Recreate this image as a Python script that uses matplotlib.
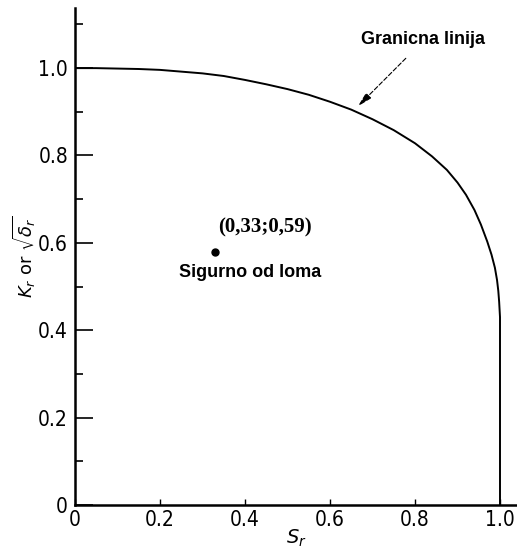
import numpy as np
import matplotlib.pyplot as plt

# boundary line
sr = [0.0, 0.05, 0.1, 0.15, 0.2, 0.25, 0.3, 0.35, 0.4, 0.45, 0.5, 0.55,
      0.6, 0.65, 0.7, 0.75, 0.8, 0.84, 0.875, 0.9, 0.92, 0.94, 0.955, 0.97,
      0.98, 0.988, 0.993, 0.996, 0.998, 1.0, 1.0]
kr = [1.0, 1.0, 0.999, 0.998, 0.996, 0.992, 0.988, 0.982, 0.973, 0.963, 0.952, 0.939,
      0.923, 0.905, 0.883, 0.858, 0.828, 0.798, 0.767, 0.738, 0.71, 0.675, 0.642, 0.603,
      0.573, 0.543, 0.515, 0.49, 0.465, 0.43, 0.0]

point = (0.33, 0.58)
point_label = "(0,33;0,59)"
region_label = "Sigurno od loma"
line_label = "Granicna linija"

xticks = [0, 0.2, 0.4, 0.6, 0.8, 1.0]
xticklabels = ["0", "0.2", "0.4", "0.6", "0.8", "1.0"]
yticks = [0, 0.2, 0.4, 0.6, 0.8, 1.0]
yticklabels = ["0", "0.2", "0.4", "0.6", "0.8", "1.0"]

fig = plt.figure(figsize=(5.17, 5.53), dpi=100)
ax = fig.add_axes([0.145, 0.087, 0.855, 0.898])

ax.plot(sr, kr, color="black", lw=1.4)
ax.plot(point[0], point[1], "o", color="black", ms=5)

ax.set_xlim(0, 1.04)
ax.set_ylim(0, 1.137)

for s in ["top", "right"]:
    ax.spines[s].set_visible(False)
ax.spines["left"].set_linewidth(1.8)
ax.spines["bottom"].set_linewidth(1.8)

ax.set_xticks(xticks)
ax.set_xticklabels(xticklabels, fontfamily="DejaVu Sans", fontstretch="condensed", fontsize=15)
ax.set_yticks(yticks)
ax.set_yticklabels(yticklabels, fontfamily="DejaVu Sans", fontstretch="condensed", fontsize=15)
ax.set_yticks(np.arange(0.1, 1.15, 0.2), minor=True)
ax.tick_params(axis="y", which="major", direction="in", length=13, width=1.2, pad=5)
ax.tick_params(axis="y", which="minor", direction="in", length=6, width=1.2)
ax.tick_params(axis="x", which="major", direction="in", length=4, width=1.0, pad=4)

ax.set_xlabel(r"$S_r$", fontsize=14, labelpad=-2)
ax.set_ylabel(r"$K_r$ or $\sqrt{\delta_r}$", fontsize=13, labelpad=0)

ax.text(0.447, 0.634, point_label, ha="center", va="center",
        fontfamily="Liberation Serif", fontweight="bold", fontsize=15)
ax.text(0.412, 0.533, region_label, ha="center", va="center",
        fontfamily="Liberation Sans", fontweight="bold", fontsize=13)
ax.text(0.82, 1.065, line_label, ha="center", va="center",
        fontfamily="Liberation Sans", fontweight="bold", fontsize=13)
ax.annotate("", xy=(0.661, 0.908), xytext=(0.783, 1.027),
            arrowprops=dict(arrowstyle="-|>,head_length=0.9,head_width=0.22",
                            color="black", lw=0.8, linestyle=(0, (4, 2))))

fig.savefig("out.png", dpi=100)
